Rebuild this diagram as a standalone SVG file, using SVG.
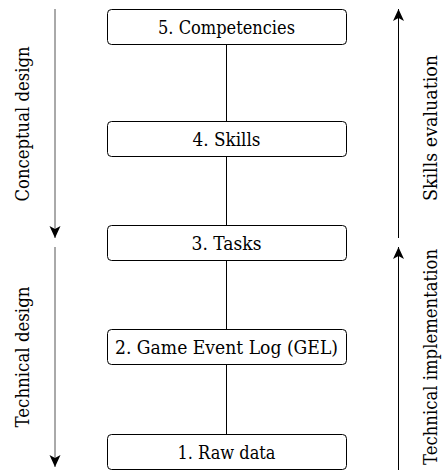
<svg xmlns="http://www.w3.org/2000/svg" width="442" height="470" viewBox="0 0 442 470">
<style>
.box{fill:#fff;stroke:#000;stroke-width:1}
.lbl{font-family:'DejaVu Serif','Liberation Serif',serif;font-size:19px;fill:#000;text-anchor:middle}
.conn{stroke:#000;stroke-width:1;fill:none}
.side{stroke:#000;stroke-width:1;fill:none;marker-end:url(#ah)}
.sideL{stroke:#555;stroke-width:1;fill:none;marker-end:url(#ah)}
</style>
<defs>
<marker id="ah" markerUnits="userSpaceOnUse" markerWidth="14" markerHeight="14" viewBox="-13 -7 14 14" refX="0" refY="0" orient="auto">
<path d="M0,0 L-12,-5.5 L-9,0 L-12,5.5 Z" fill="#000"/>
</marker>
</defs>
<g id="connectors">
<line class="conn" x1="226.5" y1="44" x2="226.5" y2="121"/>
<line class="conn" x1="226.5" y1="156" x2="226.5" y2="225"/>
<line class="conn" x1="226.5" y1="260" x2="226.5" y2="329"/>
<line class="conn" x1="226.5" y1="364" x2="226.5" y2="434"/>
<line class="sideL" x1="55" y1="9" x2="55" y2="238"/>
<line class="sideL" x1="55" y1="247" x2="55" y2="467"/>
<line class="side" x1="398.5" y1="238" x2="398.5" y2="9"/>
<line class="side" x1="398.5" y1="470" x2="398.5" y2="247"/>
</g>
<g id="n5"><rect class="box" x="107.5" y="9.5" width="239" height="35" rx="4"/><text class="lbl" x="226.5" y="34" textLength="137" lengthAdjust="spacingAndGlyphs">5. Competencies</text></g>
<g id="n4"><rect class="box" x="107.5" y="121.5" width="239" height="35" rx="4"/><text class="lbl" x="226.5" y="146" textLength="68" lengthAdjust="spacingAndGlyphs">4. Skills</text></g>
<g id="n3"><rect class="box" x="107.5" y="225.5" width="239" height="35" rx="4"/><text class="lbl" x="226.5" y="250" textLength="70" lengthAdjust="spacingAndGlyphs">3. Tasks</text></g>
<g id="n2"><rect class="box" x="107.5" y="329.5" width="239" height="35" rx="4"/><text class="lbl" x="226.5" y="354" textLength="223" lengthAdjust="spacingAndGlyphs">2. Game Event Log (GEL)</text></g>
<g id="n1"><rect class="box" x="107.5" y="434.5" width="239" height="35" rx="4"/><text class="lbl" x="226.5" y="459" textLength="98" lengthAdjust="spacingAndGlyphs">1. Raw data</text></g>
<g id="side-labels">
<text class="lbl" transform="translate(28.5,124) rotate(-90)" textLength="155" lengthAdjust="spacingAndGlyphs">Conceptual design</text>
<text class="lbl" transform="translate(28.5,357) rotate(-90)" textLength="141" lengthAdjust="spacingAndGlyphs">Technical design</text>
<text class="lbl" transform="translate(437,128) rotate(-90)" textLength="146" lengthAdjust="spacingAndGlyphs">Skills evaluation</text>
<text class="lbl" transform="translate(437,357) rotate(-90)" textLength="216" lengthAdjust="spacingAndGlyphs">Technical implementation</text>
</g>
</svg>
